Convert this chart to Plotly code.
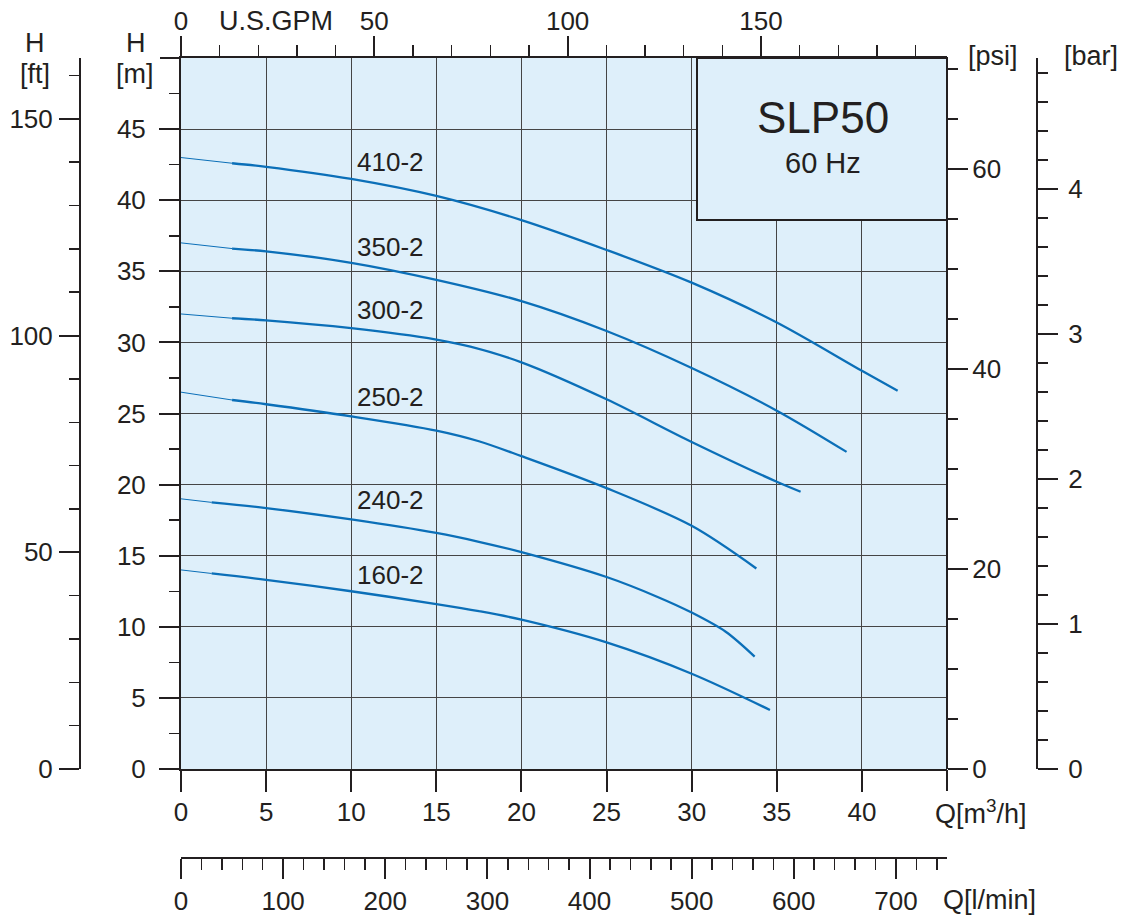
import plotly.graph_objects as go

# ---------------- data ----------------
models = ["410-2", "350-2", "300-2", "250-2", "240-2", "160-2"]

q_410 = [0, 3, 5, 10, 15, 20, 25, 30, 35, 40, 42.1]
h_410 = [43.0, 42.6, 42.35, 41.5, 40.3, 38.6, 36.5, 34.2, 31.4, 28.0, 26.6]

q_350 = [0, 3, 5, 10, 15, 20, 25, 30, 35, 39.1]
h_350 = [37.0, 36.6, 36.4, 35.6, 34.4, 32.9, 30.8, 28.2, 25.2, 22.3]

q_300 = [0, 3, 5, 10, 15, 17, 20, 25, 30, 35, 36.4]
h_300 = [32.0, 31.7, 31.55, 31.0, 30.2, 29.7, 28.6, 26.0, 23.0, 20.2, 19.5]

q_250 = [0, 3, 5, 10, 15, 17.5, 20, 25, 30, 33.8]
h_250 = [26.5, 25.95, 25.65, 24.8, 23.8, 23.05, 22.0, 19.75, 17.1, 14.1]

q_240 = [0, 1.8, 5, 10, 15, 17.5, 20, 25, 28, 30, 32, 33.7]
h_240 = [19.0, 18.75, 18.35, 17.55, 16.6, 15.98, 15.25, 13.5, 12.1, 11.0, 9.65, 7.9]

q_160 = [0, 1.8, 5, 10, 15, 17.5, 20, 25, 30, 34.6]
h_160 = [14.0, 13.75, 13.3, 12.5, 11.6, 11.1, 10.5, 8.9, 6.7, 4.15]

curves_q = [q_410, q_350, q_300, q_250, q_240, q_160]
curves_h = [h_410, h_350, h_300, h_250, h_240, h_160]
thin_until = [3, 3, 3, 3, 1.8, 1.8]          # thin lead-in segment end (m3/h)

label_q = [12.3, 12.3, 12.3, 12.3, 12.3, 12.3]
label_h = [42.7, 36.7, 32.3, 26.15, 18.9, 13.65]

q_ticks = [0, 5, 10, 15, 20, 25, 30, 35, 40]
h_ticks = [0, 5, 10, 15, 20, 25, 30, 35, 40, 45]
gpm_ticks = [0, 50, 100, 150]
lmin_ticks = [0, 100, 200, 300, 400, 500, 600, 700]
ft_ticks = [0, 50, 100, 150]
psi_ticks = [0, 20, 40, 60]
bar_ticks = [0, 1, 2, 3, 4]

Q_MAX, H_MAX = 45, 50
GPM_PER_M3H = 1 / 0.2271247
LMIN_PER_M3H = 1000 / 60
FT_PER_M = 1 / 0.3048
PSI_PER_M = 1 / 0.70307
BAR_PER_M = 1 / 10.197

# ---------------- layout geometry ----------------
# the page body has an 8px margin, so the figure is laid out in window pixels minus 8
OFF = 8
W, HT = 1129 - OFF, 920 - OFF
PX_L, PX_R, PX_T, PX_B = 181, 947, 58, 769


def fx(px):
    return (px - OFF) / W


def fy(py):
    return 1 - (py - OFF) / HT


INK = "#231F20"
BLUE = "#0B6FB8"
BG = "#DEEFFA"
GRID = "#454545"
FONT = "Liberation Sans, Arial, sans-serif"
TICK_FS = 26

fig = go.Figure()

for qs, hs, tu in zip(curves_q, curves_h, thin_until):
    thin_q = [q for q in qs if q <= tu]
    thin_h = [h for q, h in zip(qs, hs) if q <= tu]
    thick_q = [q for q in qs if q >= tu]
    thick_h = [h for q, h in zip(qs, hs) if q >= tu]
    fig.add_trace(go.Scatter(x=thin_q, y=thin_h, mode="lines",
                             line=dict(color=BLUE, width=1),
                             hoverinfo="skip", showlegend=False))
    fig.add_trace(go.Scatter(x=thick_q, y=thick_h, mode="lines",
                             line=dict(color=BLUE, width=2.3, shape="spline", smoothing=0.9),
                             hoverinfo="skip", showlegend=False))

# invisible anchors so every secondary axis is drawn
for xa, ya in [("x2", "y"), ("x3", "y"), ("x4", "y"),
               ("x", "y3"), ("x", "y4"), ("x", "y5"), ("x", "y6")]:
    fig.add_trace(go.Scatter(x=[0], y=[0], xaxis=xa, yaxis=ya, mode="markers",
                             marker=dict(opacity=0), hoverinfo="skip", showlegend=False))

tickfont = dict(family=FONT, size=TICK_FS, color=INK)
xdom = [fx(PX_L), fx(PX_R)]
ydom = [fy(PX_B), fy(PX_T)]


def minor(dt, ln):
    return dict(dtick=dt, tick0=0, ticks="outside", ticklen=ln,
                tickwidth=1.5, tickcolor=INK, showgrid=False)


common = dict(ticks="outside", tickwidth=2, tickcolor=INK, zeroline=False,
              tickfont=tickfont, fixedrange=True, automargin=False)

fig.update_layout(
    template="none",
    width=W, height=HT, autosize=False,
    margin=dict(l=0, r=0, t=0, b=0, pad=0),
    paper_bgcolor="white", plot_bgcolor=BG,
    showlegend=False,
    font=dict(family=FONT, color=INK),
    xaxis=dict(domain=xdom, range=[0, Q_MAX], anchor="y",
               tickvals=q_ticks, ticktext=[str(v) for v in q_ticks], ticklen=21,
               showline=True, linecolor=INK, linewidth=2,
               showgrid=True, gridcolor=GRID, gridwidth=1,
               ticklabelstandoff=-2, **common),
    xaxis4=dict(overlaying="x", anchor="y", side="bottom", range=[0, Q_MAX],
                tickvals=[Q_MAX], showticklabels=False, ticklen=21,
                showline=False, showgrid=True, gridcolor=GRID, gridwidth=1,
                **common),
    yaxis=dict(domain=ydom, range=[0, H_MAX], anchor="x",
               tickvals=h_ticks, ticktext=[str(v) for v in h_ticks], ticklen=20,
               minor=minor(2.5, 10),
               showline=True, linecolor=INK, linewidth=2,
               showgrid=True, gridcolor=GRID, gridwidth=1,
               ticklabelstandoff=8, **common),
    yaxis6=dict(overlaying="y", anchor="x", side="left", range=[0, H_MAX],
                tickvals=[H_MAX], showticklabels=False, ticklen=20,
                showline=False, showgrid=False, **common),
    xaxis2=dict(overlaying="x", side="top", anchor="y",
                range=[0, Q_MAX * GPM_PER_M3H],
                tickvals=gpm_ticks, ticktext=[str(v) for v in gpm_ticks], ticklen=20,
                minor=minor(10, 11),
                showline=True, linecolor=INK, linewidth=2,
                showgrid=False, ticklabelstandoff=-4, **common),
    xaxis3=dict(overlaying="x", side="bottom", anchor="free", position=fy(858),
                range=[0, Q_MAX * LMIN_PER_M3H],
                tickvals=lmin_ticks, ticktext=[str(v) for v in lmin_ticks], ticklen=20,
                minor=minor(20, 11),
                showline=True, linecolor=INK, linewidth=2,
                showgrid=False, ticklabelstandoff=0, **common),
    yaxis3=dict(overlaying="y", side="left", anchor="free", position=fx(80),
                range=[0, H_MAX * FT_PER_M],
                tickvals=ft_ticks, ticktext=[str(v) for v in ft_ticks], ticklen=20,
                minor=minor(10, 10),
                showline=True, linecolor=INK, linewidth=2,
                showgrid=False, ticklabelstandoff=1, **common),
    yaxis4=dict(overlaying="y", side="right", anchor="free", position=fx(PX_R),
                range=[0, H_MAX * PSI_PER_M],
                tickvals=psi_ticks, ticktext=[str(v) for v in psi_ticks], ticklen=20,
                minor=minor(5, 10),
                showline=True, linecolor=INK, linewidth=2,
                showgrid=False, ticklabelstandoff=-1, **common),
    yaxis5=dict(overlaying="y", side="right", anchor="free", position=fx(1037),
                range=[0, H_MAX * BAR_PER_M],
                tickvals=bar_ticks, ticktext=[str(v) for v in bar_ticks], ticklen=20,
                minor=minor(0.2, 10),
                showline=True, linecolor=INK, linewidth=2,
                showgrid=False, ticklabelstandoff=5, **common),
)

# model box
fig.add_shape(type="rect", xref="paper", yref="paper",
              x0=fx(697), x1=fx(PX_R), y0=fy(220), y1=fy(PX_T),
              fillcolor=BG, line=dict(color=INK, width=2), layer="above")

ann = []


def txt(text, px, py, size, xanchor="center"):
    ann.append(dict(text=text, x=fx(px), y=fy(py), xref="paper", yref="paper",
                    xanchor=xanchor, yanchor="middle", showarrow=False,
                    font=dict(family=FONT, size=size, color=INK)))


txt("SLP50", 823, 118, 44)
txt("60 Hz", 823, 163, 29)
txt("H", 35, 43, 27)
txt("[ft]", 35, 74, 27)
txt("H", 136, 43, 27)
txt("[m]", 135, 74, 27)
txt("[psi]", 993, 56, 27)
txt("[bar]", 1091, 56, 27)
txt("U.S.GPM", 276, 21, 27)
txt("Q[m<sup>3</sup>/h]", 981, 812, 27)
txt("Q[l/min]", 989, 900, 27)

for name, lq, lh in zip(models, label_q, label_h):
    ann.append(dict(text=name, x=lq, y=lh, xref="x", yref="y",
                    xanchor="center", yanchor="middle", showarrow=False,
                    font=dict(family=FONT, size=26, color=INK)))

fig.update_layout(annotations=ann)

fig.write_html("out.html", config=dict(displayModeBar=False, staticPlot=True))
